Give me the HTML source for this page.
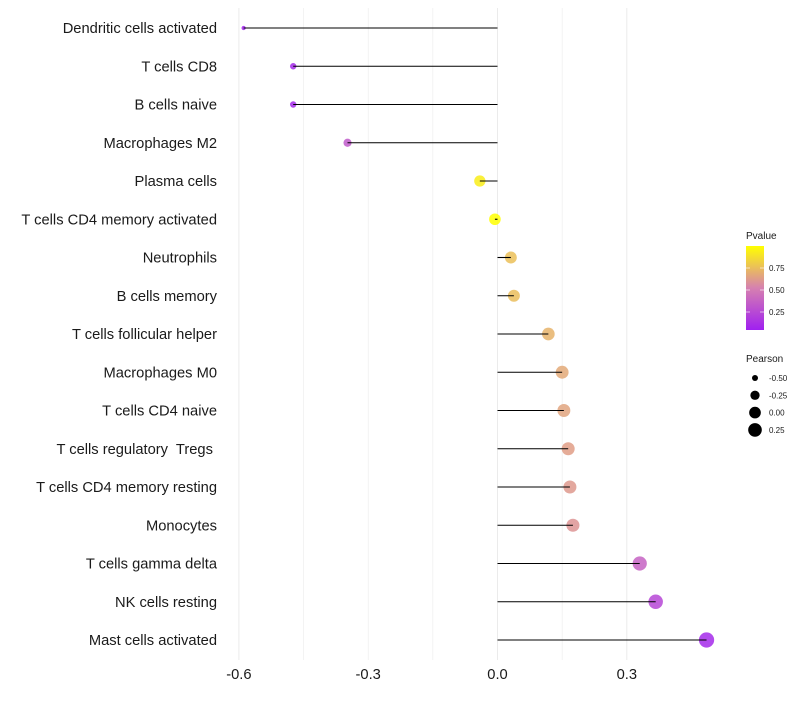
<!DOCTYPE html>
<html><head><meta charset="utf-8"><style>
body{margin:0;background:#fff;font-family:"Liberation Sans",sans-serif}
text{white-space:pre}
</style></head><body>
<svg id="chart" width="800" height="700" xmlns="http://www.w3.org/2000/svg"></svg>
<script>
const categories=["Dendritic cells activated","T cells CD8","B cells naive","Macrophages M2","Plasma cells","T cells CD4 memory activated","Neutrophils","B cells memory","T cells follicular helper","Macrophages M0","T cells CD4 naive","T cells regulatory  Tregs ","T cells CD4 memory resting","Monocytes","T cells gamma delta","NK cells resting","Mast cells activated"];
const pearson=[-0.589,-0.474,-0.474,-0.348,-0.041,-0.006,0.031,0.038,0.118,0.150,0.154,0.164,0.168,0.175,0.330,0.367,0.485];
const pvalues=[0.02,0.05,0.05,0.3,0.93,1.0,0.75,0.74,0.7,0.66,0.64,0.62,0.6,0.58,0.35,0.2,0.05];
const xTicks=[-0.6,-0.3,0.0,0.3];
const pTicks=[0.25,0.5,0.75];
const sizeLegend=[-0.5,-0.25,0,0.25];

const NS="http://www.w3.org/2000/svg";
const svg=document.getElementById('chart');
function mk(t,a,p){const e=document.createElementNS(NS,t);for(const k in a)e.setAttribute(k,a[k]);(p||svg).appendChild(e);return e;}
const x=v=>497.5+v*431;
const y=i=>28+i*38.25;
const rad=v=>Math.sqrt(Math.max(2,34+50*v));
function col(p){
  const s=[[160,32,240],[214,128,176],[255,255,0]];
  let a,b,t;if(p<0.5){a=s[0];b=s[1];t=p/0.5;}else{a=s[1];b=s[2];t=(p-0.5)/0.5;}
  return `rgb(${a.map((c,i)=>Math.round(c+(b[i]-c)*t)).join(',')})`;
}
for(let v=-0.6;v<=0.45;v+=0.15){
  const g=mk('line',{x1:x(v),x2:x(v),y1:8,y2:660,stroke:'#ebebeb','stroke-width':Math.abs((v*100)%30)<1?1:0.6});
  
  
}
categories.forEach((c,i)=>{
  const t=mk('text',{x:217,y:y(i)+5,'text-anchor':'end','font-size':14.7,fill:'#1a1a1a'});
  t.textContent=c;
  
  
  const d=mk('circle',{cx:x(pearson[i]),cy:y(i),r:rad(pearson[i]),fill:col(pvalues[i]),'fill-opacity':0.85});
  
  
  const l=mk('line',{x1:x(0),x2:x(pearson[i]),y1:y(i),y2:y(i),stroke:'#000','stroke-width':1.1});
  
  
});
xTicks.forEach(v=>{
  const t=mk('text',{x:x(v),y:679,'text-anchor':'middle','font-size':14.7,fill:'#1a1a1a'});
  t.textContent=v.toFixed(1);
  
  
});
const lt=mk('text',{x:746,y:239,'font-size':10,fill:'#1a1a1a'});lt.textContent='Pvalue';


const defs=mk('defs',{});
const gr=mk('linearGradient',{id:'pg',x1:0,y1:1,x2:0,y2:0},defs);
[0,0.25,0.5,0.75,1].forEach(p=>mk('stop',{offset:p,'stop-color':col(p)},gr));
const bar=mk('rect',{x:746,y:246,width:18,height:84,fill:'url(#pg)'});


const py=p=>334-p*88;
pTicks.forEach(p=>{
  mk('line',{x1:746,x2:750,y1:py(p),y2:py(p),stroke:'#fff','stroke-opacity':0.6});
  mk('line',{x1:760,x2:764,y1:py(p),y2:py(p),stroke:'#fff','stroke-opacity':0.6});
  const t=mk('text',{x:769,y:py(p)+3,'font-size':8,fill:'#1a1a1a'});t.textContent=p.toFixed(2);
  
  
});
const st=mk('text',{x:746,y:362,'font-size':10,fill:'#1a1a1a'});st.textContent='Pearson';


sizeLegend.forEach((v,i)=>{
  const cy=378+i*17.3;
  const c=mk('circle',{cx:755,cy:cy,r:rad(v),fill:'#000'});
  
  
  const t=mk('text',{x:769,y:cy+3,'font-size':8,fill:'#1a1a1a'});t.textContent=v.toFixed(2);
  
  
});
</script>
</body></html>
